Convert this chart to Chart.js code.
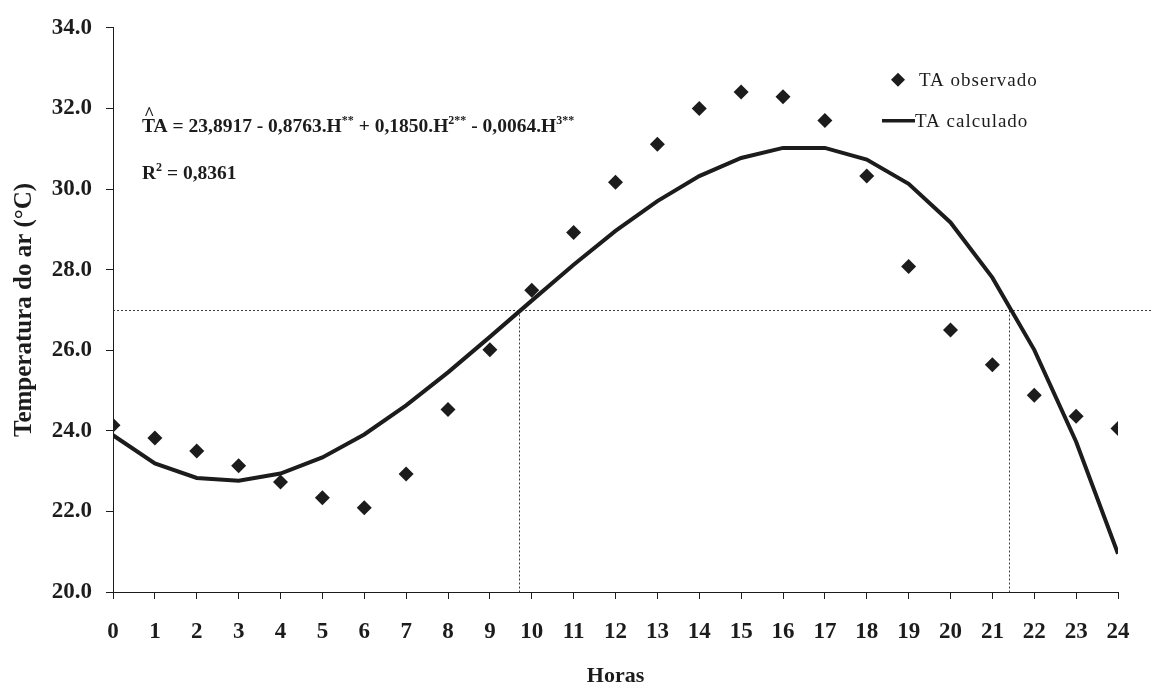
<!DOCTYPE html>
<html>
<head>
<meta charset="utf-8">
<title>Temperatura do ar x Horas</title>
<script src="https://cdn.jsdelivr.net/npm/chart.js@4.4.1/dist/chart.umd.min.js"></script>
<style>
  html, body { margin: 0; padding: 0; background: #fff; }
  #wrap { width: 1151px; height: 687px; }
</style>
</head>
<body>
<div id="wrap"><canvas id="tempChart" width="1151" height="687"></canvas></div>
<script>
// hours of the day
const hours = [0, 1, 2, 3, 4, 5, 6, 7, 8, 9, 10, 11, 12, 13, 14, 15, 16, 17, 18, 19, 20, 21, 22, 23, 24];
const observedTA = [24.14, 23.82, 23.50, 23.13, 22.73, 22.34, 22.09, 22.93, 24.53, 26.01, 27.49, 28.92, 30.17,
                    31.11, 32.00, 32.41, 32.29, 31.70, 30.32, 28.08, 26.50, 25.64, 24.88, 24.36, 24.06];
// calculated air temperature (fitted line)
const calculatedTA = [23.89, 23.19, 22.83, 22.76, 22.94, 23.34, 23.91, 24.63, 25.45, 26.33, 27.23, 28.12, 28.96,
                      29.70, 30.32, 30.77, 31.02, 31.02, 30.73, 30.13, 29.17, 27.80, 26.01, 23.73, 20.95];
// y axis tick values
const tempTicks = [20, 22, 24, 26, 28, 30, 32, 34];
// dotted guide: level and the hours where the fitted line crosses it
const guideLevel = [27.0];
const guideHours = [9.7, 21.4];
const seriesNames = ['TA observado', 'TA calculado'];

const serif = "'Liberation Serif', 'Times New Roman', serif";
const ink = '#1c1c1c';

// draws a run of text pieces, some of them as superscripts
function drawRich(ctx, x, y, parts, size) {
    parts.forEach(p => {
        const sup = p[1];
        ctx.font = 'bold ' + (sup ? Math.round(size * 0.62) : size) + 'px ' + serif;
        ctx.fillText(p[0], x, sup ? y - size * 0.42 : y);
        x += ctx.measureText(p[0]).width;
    });
}

const annotations = {
    id: 'annotations',
    beforeDatasetsDraw(chart) {
        const { ctx, chartArea, scales } = chart;
        const yRef = Math.round(scales.y.getPixelForValue(guideLevel[0])) + 0.5;
        ctx.save();
        ctx.strokeStyle = '#3a3a3a';
        ctx.lineWidth = 1;
        ctx.setLineDash([2, 2]);
        ctx.beginPath();
        ctx.moveTo(chartArea.left, yRef);
        ctx.lineTo(chart.width, yRef);
        guideHours.forEach(h => {
            const x = Math.round(scales.x.getPixelForValue(h)) + 0.5;
            ctx.moveTo(x, yRef);
            ctx.lineTo(x, chartArea.bottom);
        });
        ctx.stroke();
        ctx.restore();
    },
    afterDatasetsDraw(chart) {
        const { ctx, chartArea } = chart;
        const left = chartArea.left;
        const top = chartArea.top;
        ctx.save();
        ctx.fillStyle = ink;
        ctx.textBaseline = 'alphabetic';

        // regression equation
        ctx.font = 'bold 18px ' + serif;
        ctx.fillText('^', left + 31, top + 92);
        drawRich(ctx, left + 29, top + 104, [
            ['TA = 23,8917 - 0,8763.H', false], ['**', true],
            [' + 0,1850.H', false], ['2**', true],
            [' - 0,0064.H', false], ['3**', true]
        ], 19.5);
        drawRich(ctx, left + 29, top + 151, [['R', false], ['2', true], [' = 0,8361', false]], 19.5);

        // legend
        const lx = chartArea.right - 220;
        ctx.fillStyle = ink;
        ctx.beginPath();
        ctx.moveTo(lx, top + 45);
        ctx.lineTo(lx + 7, top + 52);
        ctx.lineTo(lx, top + 59);
        ctx.lineTo(lx - 7, top + 52);
        ctx.closePath();
        ctx.fill();
        ctx.strokeStyle = ink;
        ctx.lineWidth = 3.5;
        ctx.beginPath();
        ctx.moveTo(lx - 16, top + 93);
        ctx.lineTo(lx + 17, top + 93);
        ctx.stroke();
        ctx.font = '19px ' + serif;
        ctx.letterSpacing = '1px';
        ctx.fillText(seriesNames[0], lx + 21, top + 58);
        ctx.fillText(seriesNames[1], lx + 17, top + 99);
        ctx.restore();
    }
};

const tickFont = { family: serif, size: 23, weight: 'bold' };

new Chart(document.getElementById('tempChart'), {
    type: 'line',
    data: {
        datasets: [
            {
                label: seriesNames[0],
                data: hours.map((h, i) => ({ x: h, y: observedTA[i] })),
                showLine: false,
                pointStyle: 'rectRot',
                pointRadius: 7.5,
                backgroundColor: ink,
                borderColor: ink,
                borderWidth: 0
            },
            {
                label: seriesNames[1],
                data: hours.map((h, i) => ({ x: h, y: calculatedTA[i] })),
                borderColor: ink,
                borderWidth: 4,
                pointRadius: 0,
                tension: 0,
                fill: false
            }
        ]
    },
    options: {
        responsive: false,
        animation: false,
        layout: { padding: { top: 24, right: 33, left: 0, bottom: 0 } },
        plugins: {
            legend: { display: false },
            tooltip: { enabled: false }
        },
        scales: {
            x: {
                type: 'linear',
                min: 0,
                max: 24,
                afterBuildTicks: s => { s.ticks = hours.map(h => ({ value: h })); },
                afterFit: s => { s.height = 95; },
                border: { display: true, color: ink, width: 1 },
                grid: { drawOnChartArea: false, drawTicks: true, tickLength: 7, color: ink },
                ticks: { font: tickFont, color: ink, padding: 19, maxRotation: 0, autoSkip: false },
                title: {
                    display: true,
                    text: 'Horas',
                    font: { family: serif, size: 22, weight: 'bold', lineHeight: 1 },
                    color: ink,
                    padding: { top: 0, bottom: 0 }
                }
            },
            y: {
                min: 20,
                max: 34,
                afterBuildTicks: s => { s.ticks = tempTicks.map(v => ({ value: v })); },
                afterFit: s => { s.width = 113; },
                border: { display: true, color: ink, width: 1 },
                grid: { drawOnChartArea: false, drawTicks: true, tickLength: 7, color: ink },
                ticks: {
                    font: tickFont,
                    color: ink,
                    padding: 14,
                    callback: v => v.toFixed(1)
                },
                title: {
                    display: true,
                    text: 'Temperatura do ar (°C)',
                    font: { family: serif, size: 25, weight: 'bold' },
                    color: ink,
                    padding: { top: 10, bottom: 0 }
                }
            }
        }
    },
    plugins: [annotations]
});
</script>
</body>
</html>
